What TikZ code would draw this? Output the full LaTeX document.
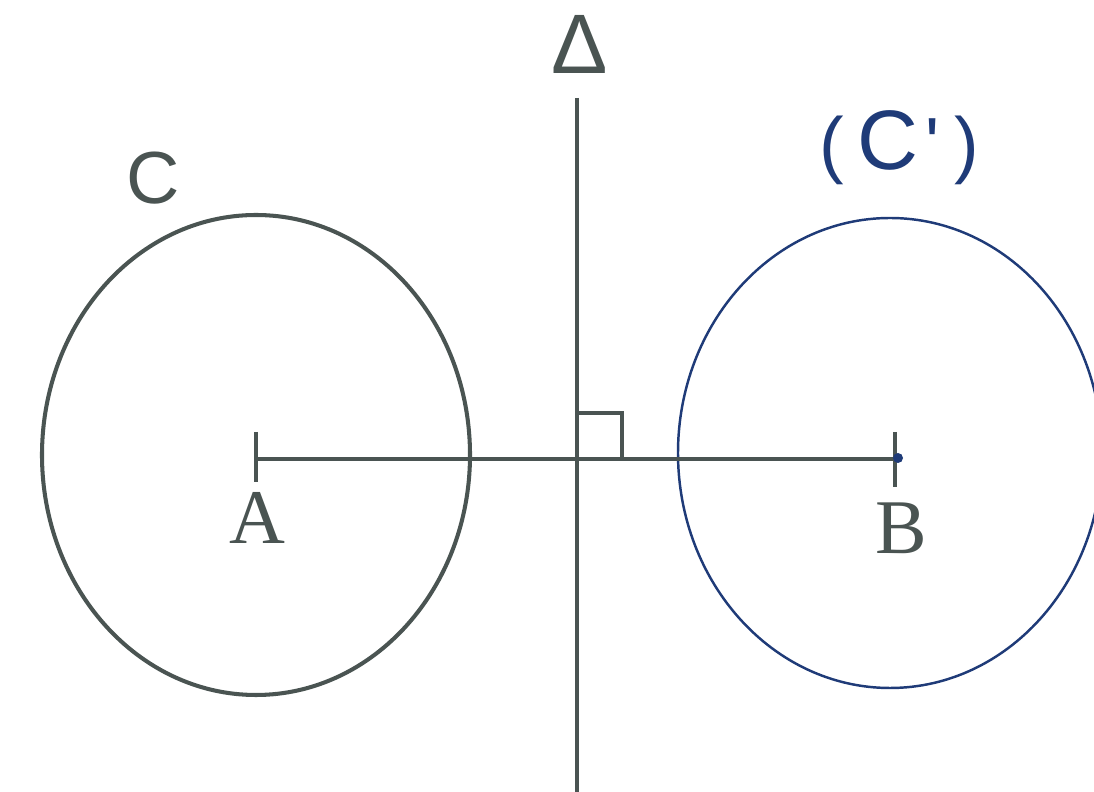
\documentclass[tikz,border=0pt]{standalone}
\usepackage{fontspec}
\usetikzlibrary{calc}
\setmainfont{Liberation Serif}
\newfontfamily\lsans{Liberation Sans}
\definecolor{pen}{HTML}{4A5452}
\definecolor{bluepen}{HTML}{1F3B78}
\begin{document}
\begin{tikzpicture}[x=0.01cm,y=-0.01cm,
  penline/.style={draw=pen,line width=1.15pt},
  blueline/.style={draw=bluepen,line width=0.7pt},
  lbl/.style={text=pen,inner sep=0pt,anchor=center}]
\useasboundingbox (0,0) rectangle (1094,792);
\clip (0,0) rectangle (1094,792);
% coordinates
\coordinate (A) at (256,459);
\coordinate (B) at (895,459);
\coordinate (O) at (577,459);
\coordinate (Dtop) at (577,98);
\coordinate (Dbot) at (577,800);
% left circle C
\draw[penline] (256,455) ellipse [x radius=214, y radius=240];
% right circle C'
\draw[blueline] (890,453) ellipse [x radius=212, y radius=235];
% axis Delta
\draw[penline] (Dtop) -- (Dbot);
% segment AB
\draw[penline] (A) -- (B);
\draw[penline] ($(A)+(0,-27)$) -- ($(A)+(0,23)$);
\draw[penline] ($(B)+(0,-27)$) -- ($(B)+(0,28)$);
\fill[bluepen] ($(B)+(3,-1)$) circle (5);
% right angle mark
\draw[penline] (577,413) -- (622,413) -- (622,459);
% labels
\node[lbl,font=\lsans\fontsize{24}{28}\selectfont] (delta) at (580,44) {Δ};
\node[lbl,font=\lsans\fontsize{21}{24}\selectfont] (c) at (153,178) {C};
\node[lbl,font=\fontsize{22}{26}\selectfont] (a) at (257,518) {A};
\node[lbl,font=\fontsize{22}{26}\selectfont] (b) at (901,528) {B};
\node[inner sep=0pt,text=bluepen,font=\lsans\fontsize{21}{26}\selectfont] (cp) at (899,148) {(\hspace{4pt}{\fontsize{24}{26}\selectfont C}\hspace{2pt}'\hspace{4pt})};
\end{tikzpicture}
\end{document}
